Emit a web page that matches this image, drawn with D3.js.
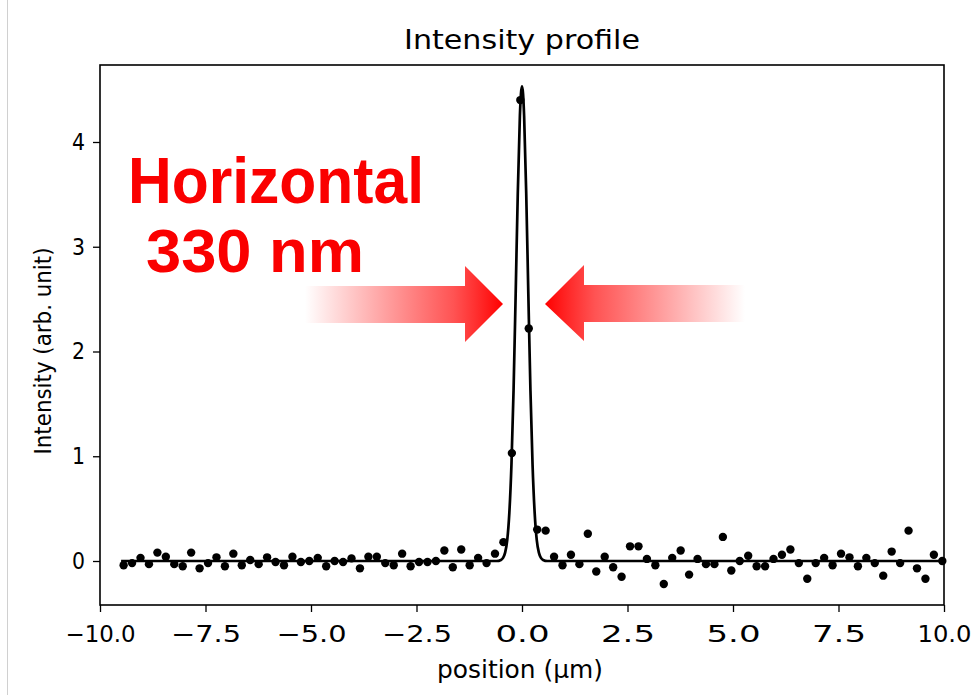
<!DOCTYPE html>
<html>
<head>
<meta charset="utf-8">
<script src="https://cdn.jsdelivr.net/npm/d3@7"></script>
<style>
  html, body { margin: 0; padding: 0; background: #fff; }
  svg { display: block; }
  text { font-family: "DejaVu Sans", sans-serif; }
</style>
</head>
<body>
<div id="chart"></div>
<script>
// -------------------- Data --------------------
const posX = [
  -9.44, -9.24, -9.04, -8.84, -8.64, -8.44, -8.24, -8.04, -7.84, -7.64,
  -7.44, -7.24, -7.04, -6.84, -6.64, -6.44, -6.24, -6.04, -5.84, -5.64,
  -5.44, -5.24, -5.04, -4.84, -4.64, -4.44, -4.24, -4.04, -3.84, -3.64,
  -3.44, -3.24, -3.04, -2.84, -2.64, -2.44, -2.24, -2.04, -1.84, -1.64,
  -1.44, -1.24, -1.04, -0.84, -0.64, -0.44, -0.24, -0.04, 0.16, 0.36,
  0.56, 0.76, 0.96, 1.16, 1.36, 1.56, 1.76, 1.96, 2.16, 2.36,
  2.56, 2.76, 2.96, 3.16, 3.36, 3.56, 3.76, 3.96, 4.16, 4.36,
  4.56, 4.76, 4.96, 5.16, 5.36, 5.56, 5.76, 5.96, 6.16, 6.36,
  6.56, 6.76, 6.96, 7.16, 7.36, 7.56, 7.76, 7.96, 8.16, 8.36,
  8.56, 8.76, 8.96, 9.16, 9.36, 9.56, 9.76, 9.96
];
const intensity = [
  -0.04, -0.02, 0.03, -0.03, 0.08, 0.04, -0.03, -0.05, 0.08, -0.07,
  -0.02, 0.035, -0.05, 0.07, -0.04, 0.01, -0.03, 0.035, -0.01, -0.04,
  0.04, -0.01, 0.0, 0.03, -0.05, 0.0, -0.01, 0.025, -0.07, 0.04,
  0.04, -0.02, -0.04, 0.07, -0.05, -0.01, -0.01, 0.0, 0.10, -0.06,
  0.11, -0.04, 0.03, -0.02, 0.07, 0.18, 1.03, 4.40, 2.22, 0.30,
  0.29, 0.04, -0.04, 0.06, -0.03, 0.26, -0.10, 0.04, -0.06, -0.15,
  0.14, 0.14, 0.02, -0.04, -0.22, 0.03, 0.10, -0.13, 0.02, -0.03,
  -0.03, 0.23, -0.09, 0.0, 0.05, -0.05, -0.05, 0.02, 0.06, 0.11,
  -0.02, -0.17, -0.02, 0.03, -0.04, 0.07, 0.035, -0.05, 0.03, -0.02,
  -0.14, 0.09, -0.02, 0.29, -0.07, -0.17, 0.06, 0.0
];

// fitted profile
const fitX = [-9.5, -0.6, -0.5, -0.45, -0.4, -0.35, -0.3, -0.25, -0.2, -0.15, -0.1, -0.05, -0.025, 0,
              0.025, 0.05, 0.1, 0.15, 0.2, 0.25, 0.3, 0.35, 0.4, 0.45, 0.5, 0.6, 10.0];
const fitY = [0, 0, 0.01, 0.03, 0.08, 0.2, 0.46, 0.92, 1.63, 2.55, 3.51, 4.25, 4.46, 4.53,
              4.46, 4.25, 3.51, 2.55, 1.63, 0.92, 0.46, 0.2, 0.08, 0.03, 0.01, 0, 0];

const xTicks = [-10, -7.5, -5, -2.5, 0, 2.5, 5, 7.5, 10];
const yTicks = [0, 1, 2, 3, 4];

// -------------------- SVG container --------------------
const width = 974, height = 695;
const margin = { top: 65, right: 30, bottom: 90, left: 100 };
const plotW = 844, plotH = 540;

const svg = d3.select("#chart")
  .append("svg")
  .attr("width", width)
  .attr("height", height);

// thin border of the screenshot
svg.append("line")
  .attr("x1", 7.5).attr("x2", 7.5)
  .attr("y1", 0).attr("y2", height)
  .attr("stroke", "#d0d0d0")
  .attr("stroke-width", 1);

const x = d3.scaleLinear().domain([-10, 10]).range([margin.left, margin.left + plotW]);
const y = d3.scaleLinear().domain([-0.42, 4.735]).range([margin.top + plotH, margin.top]);

const fmtX = d => d3.format(".1f")(d).replace("-", "\u2212");

// -------------------- Axes --------------------
const xAxis = svg.append("g")
  .attr("transform", `translate(0,${margin.top + plotH})`)
  .call(d3.axisBottom(x).tickValues(xTicks).tickFormat(fmtX).tickSize(7).tickPadding(14));
const yAxis = svg.append("g")
  .attr("transform", `translate(${margin.left},0)`)
  .call(d3.axisLeft(y).tickValues(yTicks).tickFormat(d3.format("d")).tickSize(7).tickPadding(8));

[xAxis, yAxis].forEach(a => {
  a.select(".domain").remove();
  a.selectAll(".tick line").attr("stroke", "#000").attr("stroke-width", 1.3);
  a.selectAll(".tick text")
    .attr("fill", "#000")
    .style("font-size", "23px")
    .style("font-family", "DejaVu Sans, sans-serif");
});
xAxis.selectAll(".tick text")
  .attr("textLength", d => d < 0 ? 70 : 54)
  .attr("lengthAdjust", "spacingAndGlyphs");
yAxis.selectAll(".tick text")
  .attr("textLength", 13)
  .attr("lengthAdjust", "spacingAndGlyphs");

// frame
svg.append("rect")
  .attr("x", margin.left)
  .attr("y", margin.top)
  .attr("width", plotW)
  .attr("height", plotH)
  .attr("fill", "none")
  .attr("stroke", "#000")
  .attr("stroke-width", 1.6);

// -------------------- Titles --------------------
svg.append("text")
  .attr("x", margin.left + plotW / 2)
  .attr("y", 49)
  .attr("text-anchor", "middle")
  .attr("textLength", 236)
  .attr("lengthAdjust", "spacingAndGlyphs")
  .style("font-size", "26px")
  .text("Intensity profile");

svg.append("text")
  .attr("x", 520)
  .attr("y", 678)
  .attr("text-anchor", "middle")
  .attr("textLength", 166)
  .attr("lengthAdjust", "spacingAndGlyphs")
  .style("font-size", "24px")
  .text("position (\u00b5m)");

svg.append("text")
  .attr("transform", `translate(51,351) rotate(-90)`)
  .attr("text-anchor", "middle")
  .attr("textLength", 207)
  .attr("lengthAdjust", "spacingAndGlyphs")
  .style("font-size", "23px")
  .text("Intensity (arb. unit)");

// -------------------- Fit line --------------------
const fit = fitX.map((v, i) => [v, fitY[i]]);
svg.append("path")
  .datum(fit)
  .attr("fill", "none")
  .attr("stroke", "#000")
  .attr("stroke-width", 2.7)
  .attr("stroke-linejoin", "round")
  .attr("d", d3.line().x(d => x(d[0])).y(d => y(d[1])).curve(d3.curveMonotoneX));

// -------------------- Points --------------------
svg.append("g")
  .selectAll("circle")
  .data(posX.map((v, i) => [v, intensity[i]]))
  .join("circle")
  .attr("cx", d => x(d[0]))
  .attr("cy", d => y(d[1]))
  .attr("r", 4.2)
  .attr("fill", "#000");

// -------------------- Annotation --------------------
const defs = svg.append("defs");
function grad(id, x1, x2) {
  const g = defs.append("linearGradient")
    .attr("id", id)
    .attr("gradientUnits", "userSpaceOnUse")
    .attr("x1", x1).attr("x2", x2).attr("y1", 0).attr("y2", 0);
  g.append("stop").attr("offset", 0).attr("stop-color", "#ff1010").attr("stop-opacity", 0);
  g.append("stop").attr("offset", 0.75).attr("stop-color", "#ff1a1a").attr("stop-opacity", 0.75);
  g.append("stop").attr("offset", 1).attr("stop-color", "#ff0000").attr("stop-opacity", 1);
}
grad("arrowL", 305, 503);
grad("arrowR", 745, 545);

// left arrow pointing right
svg.append("path")
  .attr("d", "M305,286 L465,286 L465,266 L503,304 L465,342 L465,323 L305,323 Z")
  .attr("fill", "url(#arrowL)");
// right arrow pointing left
svg.append("path")
  .attr("d", "M745,285 L584,285 L584,265 L545,304 L584,341 L584,322 L745,322 Z")
  .attr("fill", "url(#arrowR)");

svg.append("text")
  .attr("x", 128)
  .attr("y", 203)
  .attr("fill", "#fa0000")
  .attr("textLength", 296)
  .attr("lengthAdjust", "spacingAndGlyphs")
  .style("font-family", "Liberation Sans, Arial, sans-serif")
  .style("font-weight", "bold")
  .style("font-size", "64px")
  .text("Horizontal");

svg.append("text")
  .attr("x", 146)
  .attr("y", 272)
  .attr("fill", "#fa0000")
  .attr("textLength", 218)
  .attr("lengthAdjust", "spacingAndGlyphs")
  .style("font-family", "Liberation Sans, Arial, sans-serif")
  .style("font-weight", "bold")
  .style("font-size", "62px")
  .text("330 nm");
</script>
</body>
</html>
